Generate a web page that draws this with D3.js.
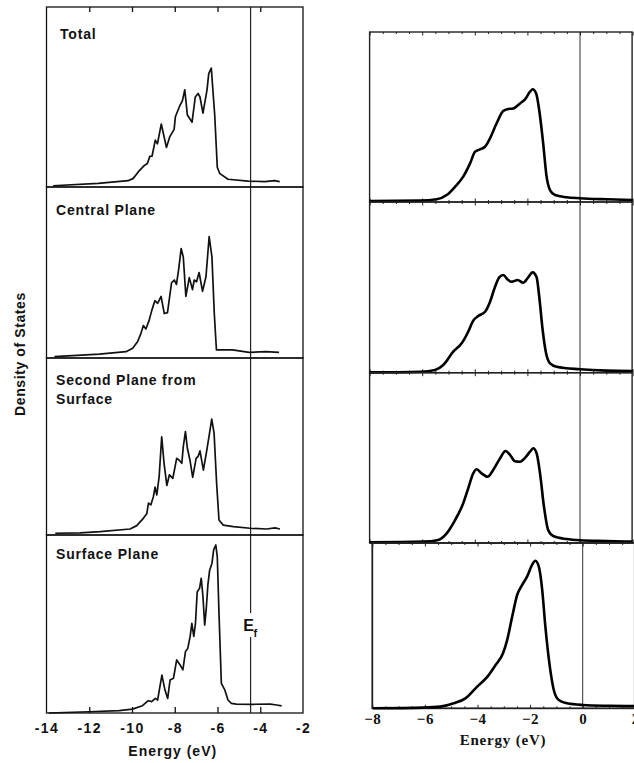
<!DOCTYPE html>
<html>
<head>
<meta charset="utf-8">
<script src="https://cdn.jsdelivr.net/npm/d3@7"></script>
<style>
  body { margin: 0; background: #fff; }
  svg { display: block; }
</style>
</head>
<body>
<svg id="chart" width="634" height="763"></svg>
<script>
// ---- Tight-binding cluster DOS (left column), energies in eV ----
const leftTitles = [["Total"], ["Central Plane"], ["Second Plane from", "Surface"], ["Surface Plane"]];
const leftTicks = [-14, -12, -10, -8, -6, -4, -2];
const fermiLeft = -4.45;

const totalEnergy = [-13.69,-11.58,-10.18,-9.94,-9.70,-9.42,-9.28,-9.17,-9.06,-8.91,-8.81,-8.63,-8.39,-8.23,-8.03,-7.97,-7.77,-7.64,-7.53,-7.41,-7.19,-7.04,-6.91,-6.82,-6.68,-6.49,-6.41,-6.29,-6.13,-6.01,-5.90,-5.51,-4.57,-3.79,-3.33,-3.09];
const totalDos = [0.007,0.02,0.035,0.048,0.085,0.12,0.13,0.17,0.172,0.26,0.24,0.35,0.22,0.28,0.32,0.39,0.45,0.48,0.54,0.40,0.36,0.50,0.52,0.50,0.41,0.54,0.63,0.66,0.40,0.11,0.076,0.043,0.033,0.03,0.035,0.03];

const centralEnergy = [-13.63,-11.53,-10.28,-9.97,-9.74,-9.58,-9.47,-9.35,-9.20,-9.07,-8.93,-8.80,-8.64,-8.49,-8.34,-8.15,-8.02,-7.92,-7.82,-7.70,-7.60,-7.48,-7.32,-7.17,-7.09,-6.98,-6.86,-6.70,-6.54,-6.39,-6.26,-6.15,-6.05,-5.30,-4.52,-3.74,-3.12];
const centralDos = [0.008,0.023,0.037,0.057,0.095,0.144,0.19,0.17,0.22,0.28,0.335,0.32,0.36,0.26,0.265,0.44,0.456,0.43,0.515,0.64,0.59,0.36,0.47,0.40,0.456,0.446,0.50,0.39,0.475,0.71,0.59,0.26,0.047,0.047,0.033,0.037,0.033];

const secondEnergy = [-13.59,-12.43,-11.49,-10.09,-9.78,-9.47,-9.31,-9.23,-9.12,-9.00,-8.92,-8.84,-8.73,-8.61,-8.50,-8.37,-8.25,-8.09,-7.91,-7.80,-7.67,-7.60,-7.50,-7.41,-7.29,-7.16,-7.00,-6.90,-6.82,-6.66,-6.50,-6.40,-6.27,-6.16,-6.04,-5.93,-5.73,-5.26,-4.48,-3.70,-3.31,-3.08];
const secondDos = [0.01,0.012,0.019,0.034,0.053,0.094,0.12,0.18,0.17,0.216,0.27,0.226,0.33,0.555,0.405,0.28,0.34,0.32,0.433,0.424,0.405,0.50,0.584,0.49,0.424,0.326,0.433,0.446,0.475,0.367,0.48,0.555,0.655,0.575,0.29,0.085,0.056,0.047,0.038,0.034,0.04,0.034];

const surfaceEnergy = [-13.90,-12.01,-10.60,-9.98,-9.51,-9.24,-9.08,-8.91,-8.80,-8.72,-8.60,-8.46,-8.33,-8.22,-8.06,-7.91,-7.75,-7.62,-7.50,-7.39,-7.28,-7.20,-7.11,-7.03,-6.95,-6.84,-6.76,-6.68,-6.60,-6.53,-6.45,-6.37,-6.26,-6.18,-6.08,-6.01,-5.93,-5.82,-5.66,-5.51,-5.35,-5.12,-4.33,-3.54,-3.23,-3.00];
const surfaceDos = [0.0,0.007,0.013,0.022,0.041,0.069,0.064,0.082,0.073,0.13,0.213,0.13,0.082,0.185,0.195,0.298,0.27,0.242,0.344,0.363,0.43,0.504,0.43,0.504,0.68,0.70,0.757,0.653,0.494,0.579,0.72,0.80,0.84,0.916,0.944,0.878,0.56,0.167,0.13,0.073,0.054,0.05,0.049,0.05,0.045,0.04];

// ---- Smooth model DOS (right column), energies relative to E_F ----
const rightTicks = [-8, -6, -4, -2, 0, 2];
const fermiRight = 0;

const rTotalEnergy = [-8.0,-6.08,-5.45,-5.07,-4.75,-4.44,-4.18,-3.99,-3.80,-3.61,-3.42,-3.17,-2.92,-2.73,-2.54,-2.28,-2.09,-1.90,-1.80,-1.67,-1.55,-1.40,-1.27,-1.14,-0.95,-0.51,0,1.01,2.0];
const rTotalDos = [0.006,0.008,0.016,0.041,0.09,0.149,0.227,0.296,0.31,0.325,0.375,0.463,0.535,0.547,0.55,0.58,0.604,0.649,0.663,0.64,0.54,0.345,0.149,0.07,0.041,0.028,0.022,0.016,0.012];

const rCentralEnergy = [-8.0,-6.08,-5.51,-5.20,-4.82,-4.50,-4.25,-4.06,-3.87,-3.61,-3.42,-3.23,-3.07,-2.92,-2.73,-2.60,-2.37,-2.16,-1.97,-1.80,-1.65,-1.55,-1.42,-1.29,-1.14,-0.89,0,1.01,2.0];
const rCentralDos = [0.002,0.006,0.016,0.045,0.123,0.172,0.24,0.305,0.332,0.357,0.416,0.504,0.559,0.572,0.543,0.533,0.543,0.527,0.559,0.588,0.559,0.445,0.25,0.114,0.055,0.035,0.02,0.012,0.01];

const rSecondEnergy = [-8.0,-5.96,-5.39,-5.07,-4.75,-4.44,-4.25,-4.06,-3.93,-3.74,-3.51,-3.30,-3.04,-2.83,-2.66,-2.47,-2.28,-2.09,-1.90,-1.78,-1.65,-1.52,-1.37,-1.21,-1.02,-0.51,0,1.01,2.0];
const rSecondDos = [0.004,0.008,0.018,0.057,0.135,0.233,0.321,0.409,0.433,0.409,0.389,0.429,0.497,0.54,0.517,0.48,0.477,0.50,0.536,0.556,0.527,0.409,0.213,0.076,0.041,0.023,0.016,0.012,0.008];

const rSurfaceEnergy = [-7.98,-6.05,-5.41,-4.90,-4.46,-4.02,-3.63,-3.32,-3.03,-2.87,-2.68,-2.49,-2.30,-2.11,-1.92,-1.80,-1.67,-1.54,-1.42,-1.25,-1.10,-0.91,-0.59,0,1.0,2.0];
const rSurfaceDos = [0,0.004,0.01,0.03,0.06,0.13,0.19,0.26,0.333,0.414,0.555,0.687,0.747,0.798,0.869,0.893,0.858,0.717,0.495,0.252,0.111,0.05,0.03,0.02,0.015,0.013];

const SANS = '"Liberation Sans", Arial, Helvetica, sans-serif';
const SERIF = '"Liberation Serif", "Times New Roman", Times, serif';

const svg = d3.select("#chart");
const zip = (xs, ys) => xs.map((x, i) => [x, ys[i]]);
const boldText = (sel, family, size) => sel
  .attr("font-family", family).attr("font-weight", "bold").attr("font-size", size)
  .style("font-family", family).style("font-weight", "bold").style("font-size", size + "px");

// ================= Left column =================
const L = { left: 46.5, right: 303, tops: [7, 187, 358, 535], bottoms: [187, 358, 535, 713] };
const xL = d3.scaleLinear().domain([-14, -2]).range([L.left, L.right]);
const leftSeries = [zip(totalEnergy, totalDos), zip(centralEnergy, centralDos), zip(secondEnergy, secondDos), zip(surfaceEnergy, surfaceDos)];
const titleLines = [[39], [215], [385, 404], [559]];
const titleX = [60, 56, 56, 56];

const gL = svg.append("g");
leftSeries.forEach((data, i) => {
  const y = d3.scaleLinear().domain([0, 1]).range([L.bottoms[i], L.tops[i]]);
  gL.append("rect")
    .attr("x", L.left).attr("y", L.tops[i])
    .attr("width", L.right - L.left).attr("height", L.bottoms[i] - L.tops[i])
    .attr("fill", "none").attr("stroke", "#111").attr("stroke-width", 1.3);
  gL.append("path").datum(data)
    .attr("d", d3.line().x(d => xL(d[0])).y(d => y(d[1])).curve(d3.curveLinear))
    .attr("fill", "none").attr("stroke", "#111").attr("stroke-width", 1.7)
    .attr("stroke-linejoin", "round");
  leftTitles[i].forEach((t, k) => {
    gL.append("text")
      .attr("x", titleX[i]).attr("y", titleLines[i][k])
      .attr("letter-spacing", 0.8).attr("fill", "#111")
      .call(boldText, SANS, 14)
      .text(t);
  });
});

// inward ticks on top edge
const topAxis = d3.axisTop(xL).tickValues(leftTicks.slice(1, -1)).tickSizeInner(-5).tickSizeOuter(0).tickFormat("");
gL.append("g").attr("transform", `translate(0,${L.tops[0]})`).call(topAxis)
  .call(g => g.select(".domain").remove())
  .call(g => g.selectAll("line").attr("stroke", "#111").attr("stroke-width", 1.3));

// bottom axis: inward ticks + labels
const bottomAxis = d3.axisBottom(xL).tickValues(leftTicks).tickSizeInner(-6).tickSizeOuter(0).tickFormat(d => String(d));
gL.append("g").attr("transform", `translate(0,${L.bottoms[3]})`).call(bottomAxis)
  .call(boldText, SANS, 14)
  .call(g => g.select(".domain").remove())
  .call(g => g.selectAll("line").attr("stroke", "#111").attr("stroke-width", 1.3)
    .filter(d => d === -14 || d === -2).remove())
  .call(g => g.selectAll("text").attr("y", 19.7).attr("dy", 0)
    .attr("letter-spacing", 1.4).attr("fill", "#111").call(boldText, SANS, 14));

gL.append("text")
  .attr("x", (L.left + L.right) / 2 - 2).attr("y", 756).attr("text-anchor", "middle")
  .attr("letter-spacing", 1).attr("fill", "#111").call(boldText, SANS, 14)
  .text("Energy (eV)");

gL.append("text")
  .attr("transform", "translate(25,354) rotate(-90)").attr("text-anchor", "middle")
  .attr("letter-spacing", 0.6).attr("fill", "#111").call(boldText, SANS, 14)
  .text("Density of States");

// Fermi level marker
gL.append("line")
  .attr("x1", xL(fermiLeft)).attr("x2", xL(fermiLeft))
  .attr("y1", L.tops[0]).attr("y2", L.bottoms[3])
  .attr("stroke", "#111").attr("stroke-width", 1.1);
gL.append("rect").attr("x", xL(fermiLeft) - 8).attr("y", 613).attr("width", 18).attr("height", 24).attr("fill", "#fff");
gL.append("text")
  .attr("x", xL(fermiLeft) - 7.5).attr("y", 631).attr("fill", "#111").call(boldText, SANS, 16).text("E");
gL.append("text")
  .attr("x", xL(fermiLeft) + 2.8).attr("y", 636.5).attr("fill", "#111").call(boldText, SANS, 11).text("f");

// ================= Right column =================
const R = { tops: [32, 202, 372.7, 543], bottoms: [202, 372.7, 543, 708.3] };
const xRUpper = d3.scaleLinear().domain([-8, 2]).range([369.6, 632.6]);
const xRLower = d3.scaleLinear().domain([-8, 2]).range([372.3, 635.3]);
const rightSeries = [zip(rTotalEnergy, rTotalDos), zip(rCentralEnergy, rCentralDos), zip(rSecondEnergy, rSecondDos), zip(rSurfaceEnergy, rSurfaceDos)];
const minorTicks = d3.range(-8, 2.001, 0.5);

const gR = svg.append("g");
rightSeries.forEach((data, i) => {
  const x = i < 3 ? xRUpper : xRLower;
  const y = d3.scaleLinear().domain([0, 1]).range([R.bottoms[i], R.tops[i]]);
  const [x0, x1] = x.range();

  // Fermi level
  gR.append("line")
    .attr("x1", x(fermiRight)).attr("x2", x(fermiRight))
    .attr("y1", R.tops[i]).attr("y2", R.bottoms[i])
    .attr("stroke", "#333").attr("stroke-width", 1);

  // minor + major inward ticks on both horizontal edges
  [[R.tops[i], d3.axisTop], [R.bottoms[i], d3.axisBottom]].forEach(([yy, axisFn]) => {
    const minor = axisFn(x).tickValues(minorTicks.filter(v => v % 2 !== 0)).tickSizeInner(-2).tickSizeOuter(0).tickFormat("");
    const major = axisFn(x).tickValues(rightTicks).tickSizeInner(-3.5).tickSizeOuter(0).tickFormat("");
    [minor, major].forEach(ax => {
      gR.append("g").attr("transform", `translate(0,${yy})`).call(ax)
        .call(g => g.select(".domain").remove())
        .call(g => g.selectAll("line").attr("stroke", "#222").attr("stroke-width", 1));
    });
  });

  gR.append("rect")
    .attr("x", x0).attr("y", R.tops[i])
    .attr("width", x1 - x0 - 0.5).attr("height", R.bottoms[i] - R.tops[i])
    .attr("fill", "none").attr("stroke", "#222").attr("stroke-width", i < 3 ? 1.4 : 1.8);

  gR.append("path").datum(data)
    .attr("d", d3.line().x(d => x(d[0])).y(d => y(d[1])).curve(d3.curveMonotoneX))
    .attr("fill", "none").attr("stroke", "#000").attr("stroke-width", 2.6)
    .attr("stroke-linejoin", "round");
});

// energy labels under the lowest panel
const rAxis = d3.axisBottom(xRLower).tickValues(rightTicks).tickSize(0).tickFormat(d3.format("d"));
gR.append("g").attr("transform", `translate(0,${R.bottoms[3]})`).call(rAxis)
  .call(boldText, SERIF, 15)
  .call(g => g.select(".domain").remove())
  .call(g => g.selectAll("text").attr("y", 15.7).attr("dy", 0)
    .attr("letter-spacing", 0.5).attr("fill", "#111").call(boldText, SERIF, 15));

gR.append("text")
  .attr("x", 503).attr("y", 745).attr("text-anchor", "middle")
  .attr("letter-spacing", 0.8).attr("fill", "#111").call(boldText, SERIF, 15)
  .text("Energy (eV)");
</script>
</body>
</html>
